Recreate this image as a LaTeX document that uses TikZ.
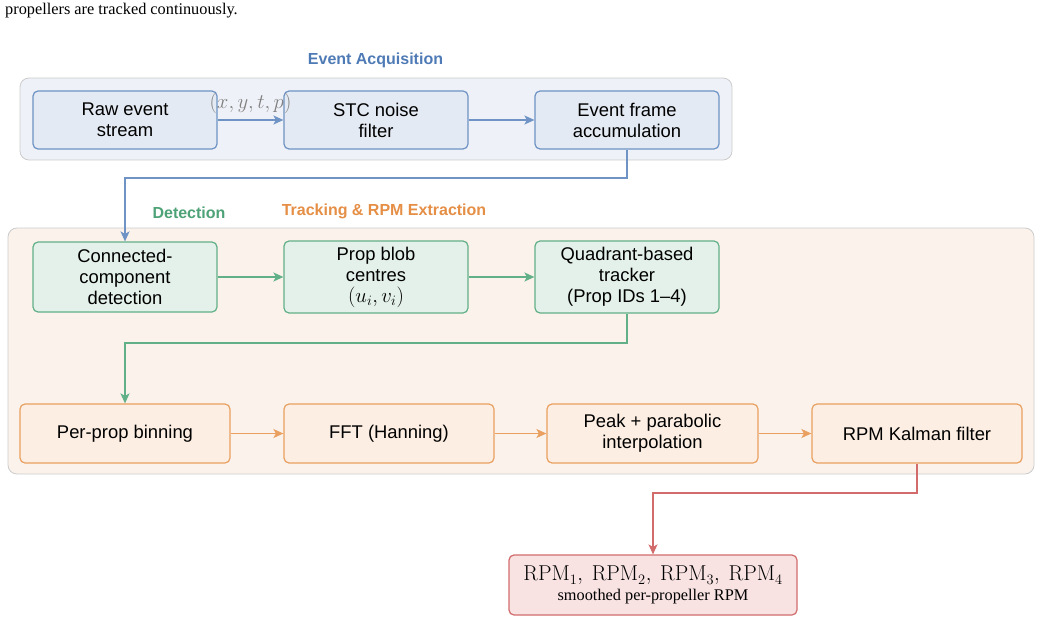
\documentclass[tikz,border=0pt]{standalone}
\usepackage{fontspec}
\setsansfont{Liberation Sans}
\newfontfamily\capfont{Liberation Serif}
\usetikzlibrary{arrows.meta}
\definecolor{bstroke}{HTML}{6E93C4}
\definecolor{bfill}{HTML}{E4EAF3}
\definecolor{gstroke}{HTML}{62B087}
\definecolor{gfill}{HTML}{E3F1EA}
\definecolor{ostroke}{HTML}{E9A060}
\definecolor{ofill}{HTML}{FCEEE2}
\definecolor{rstroke}{HTML}{D26C6C}
\definecolor{rfill}{HTML}{F8E2E2}
\definecolor{grpA}{HTML}{EEF1F7}
\definecolor{grpB}{HTML}{FBF2EC}
\definecolor{grpline}{HTML}{CCCCCC}
\definecolor{btitle}{HTML}{4E7AB5}
\definecolor{gtitle}{HTML}{4DA277}
\definecolor{otitle}{HTML}{E58E45}
\newcommand{\bigmath}[1]{{\fontsize{21}{22}\selectfont$#1$}}
\tikzset{
  stepbox/.style={rounded corners=5pt, line width=1.2pt, align=center,
    font=\sffamily\fontsize{18.4}{21}\selectfont, inner sep=0pt},
  bluebox/.style={stepbox, draw=bstroke, fill=bfill},
  greenbox/.style={stepbox, draw=gstroke, fill=gfill},
  orangebox/.style={stepbox, draw=ostroke, fill=ofill},
  redbox/.style={stepbox, draw=rstroke, fill=rfill},
  group/.style={rounded corners=9pt, draw=grpline, line width=0.8pt},
  title/.style={font=\sffamily\bfseries\fontsize{16}{18}\selectfont},
  arr/.style={line width=1.4pt, -{Stealth[length=10pt,width=9pt,inset=2.5pt]}},
}
\begin{document}
\begin{tikzpicture}[x=1pt,y=-1pt]
\useasboundingbox (0,0) rectangle (1041,623);
% caption fragment
\node[anchor=base west, inner sep=0pt, font=\capfont\fontsize{16.3}{18}\selectfont] (cap) at (5,15) {propellers are tracked continuously.};
% groups
\draw[group, fill=grpA] (20,78) rectangle (732,160);
\draw[group, fill=grpB] (8,228) rectangle (1034,474);
\node[title, text=btitle] (tA) at (375.5,60) {Event Acquisition};
\node[title, text=gtitle] (tD) at (189,213) {Detection};
\node[title, text=otitle] (tT) at (384,211) {Tracking \& RPM Extraction};
% row 1
\node[bluebox, minimum width=184pt, minimum height=58pt] (raw) at (125,120) {Raw event\\stream};
\node[bluebox, minimum width=184pt, minimum height=58pt] (stc) at (376,120) {STC noise\\filter};
\node[bluebox, minimum width=184pt, minimum height=58pt] (acc) at (627,120) {Event frame\\accumulation};
% row 2
\node[greenbox, minimum width=184pt, minimum height=70pt] (cc) at (125,277) {Connected-\\component\\detection};
\node[greenbox, minimum width=184pt, minimum height=72pt] (blob) at (376,277) {Prop blob\\centres\\\bigmath{(u_i,v_i)}};
\node[greenbox, minimum width=184pt, minimum height=72pt] (quad) at (627,277) {Quadrant-based\\tracker\\(Prop IDs 1--4)};
% row 3
\node[orangebox, minimum width=210pt, minimum height=59pt] (bin) at (125,433.5) {Per-prop binning};
\node[orangebox, minimum width=210pt, minimum height=59pt] (fft) at (389,433.5) {FFT (Hanning)};
\node[orangebox, minimum width=211pt, minimum height=59pt] (peak) at (652.5,433.5) {Peak + parabolic\\interpolation};
\node[orangebox, minimum width=210pt, minimum height=59pt] (kal) at (917,433.5) {RPM Kalman filter};
% output
\node[redbox, minimum width=288pt, minimum height=60pt, font=\capfont] (out) at (653,585)
  {\fontsize{21.5}{24}\selectfont $\mathrm{RPM}_1,\ \mathrm{RPM}_2,\ \mathrm{RPM}_3,\ \mathrm{RPM}_4$\\[3pt]
   \fontsize{16.3}{18}\selectfont smoothed per-propeller RPM};
% arrows
\draw[arr, draw=bstroke] (raw) -- node[pos=0.5, above=2pt, text=gray] {\bigmath{(x,y,t,p)}} (stc);
\draw[arr, draw=bstroke] (stc) -- (acc);
\draw[arr, draw=bstroke] (acc.south) -- (627,178) -| (cc.north);
\draw[arr, draw=gstroke] (cc) -- (blob);
\draw[arr, draw=gstroke] (blob) -- (quad);
\draw[arr, draw=gstroke] (quad.south) -- (627,343) -| (bin.north);
\draw[arr, draw=ostroke] (bin) -- (fft);
\draw[arr, draw=ostroke] (fft) -- (peak);
\draw[arr, draw=ostroke] (peak) -- (kal);
\draw[arr, draw=rstroke] (kal.south) -- (917,493) -| (out.north);
\end{tikzpicture}
\end{document}
